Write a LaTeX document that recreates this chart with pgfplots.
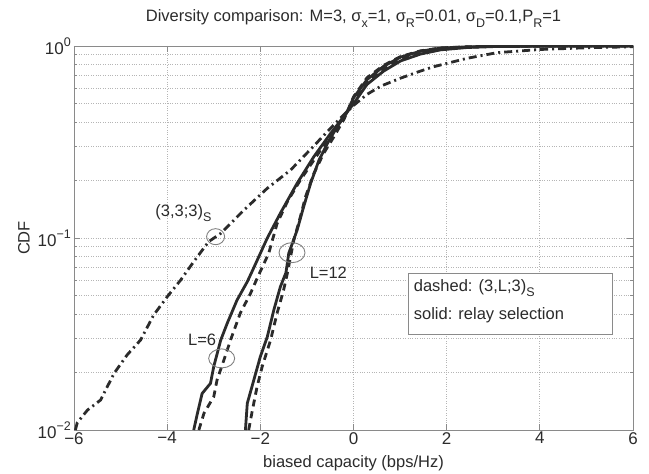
\documentclass[border=0pt]{standalone}
\usepackage{fontspec}
\setmainfont{Liberation Sans}
\usepackage{pgfplots}
\pgfplotsset{compat=1.18}
\definecolor{ink}{HTML}{2B2B2B}
\definecolor{framec}{HTML}{8A8A8A}
\definecolor{gridc}{HTML}{B5B5B5}
\newcommand\sub[1]{\raisebox{-0.6ex}{\fontsize{12.5}{13}\selectfont #1}}
\newcommand\sups[1]{\raisebox{0.85ex}{\fontsize{12.5}{13}\selectfont #1}}

\begin{document}
\begin{tikzpicture}
\useasboundingbox (-74pt,-44pt) rectangle (575pt,430pt);
\begin{axis}[
  at={(0,0)}, anchor=south west,
  scale only axis, width=559pt, height=384pt,
  xmin=-6, xmax=6, ymode=log, ymin=0.01, ymax=1,
  xtick={-6,-4,-2,0,2,4,6}, xticklabels={−6,−4,−2,0,2,4,6},
  ytick={0.01,0.1,1}, yticklabels={10\sups{−2},10\sups{−1},10\sups{0}},
  grid=both,
  major grid style={dotted, gridc, line width=0.9pt},
  minor grid style={dotted, gridc, line width=0.9pt},
  tick align=inside, major tick length=6pt, minor tick length=3.5pt,
  tick style={framec, line width=0.7pt},
  axis line style={framec, line width=0.9pt},
  ticklabel style={font=\fontsize{17}{20}\selectfont, text=ink},
  xticklabel style={inner sep=2pt},
  yticklabel style={inner sep=3pt},
  xlabel={biased capacity (bps/Hz)}, ylabel={CDF},
  xlabel style={at={(axis description cs:0.5,0)}, anchor=base, yshift=-37pt, font=\fontsize{16.5}{19}\selectfont, text=ink},
  ylabel style={at={(axis description cs:-0.0894,0.5)}, anchor=center, font=\fontsize{16.5}{19}\selectfont, text=ink},
  title={Diversity comparison: M=3, σ\sub{x}=1, σ\sub{R}=0.01, σ\sub{D}=0.1,P\sub{R}=1},
  title style={at={(axis description cs:0.5,1)}, anchor=base, yshift=18pt, font=\fontsize{16.5}{19}\selectfont, text=ink},
  every axis plot/.append style={ink, line width=2.8pt},
]
% (3,3;3)_S dash-dot
\addplot[dash pattern=on 8pt off 4pt on 2pt off 4pt] coordinates {
(-5.97,0.0100) (-5.93,0.01091) (-5.71,0.01271) (-5.43,0.01432) (-5.14,0.01972)
(-4.86,0.0246) (-4.57,0.02944) (-4.29,0.0397) (-4.0,0.0494) (-3.71,0.0604)
(-3.43,0.0753) (-3.11,0.0957) (-2.85,0.1057) (-2.35,0.140) (-1.85,0.1816)
(-1.35,0.226) (-0.85,0.302) (-0.42,0.389) (-0.2,0.44) (0.0,0.49) (0.29,0.56)
(0.6,0.62) (1.01,0.68) (1.4,0.735) (1.72,0.780) (2.44,0.863) (3.08,0.923)
(4.0,0.959) (5.0,0.979) (6.0,0.991)
};
% L=6 solid
\addplot[solid] coordinates {
(-3.43,0.0100) (-3.35,0.01222) (-3.25,0.01549) (-3.07,0.0175) (-3.0,0.0214)
(-2.85,0.0294) (-2.71,0.0360) (-2.50,0.0475) (-2.28,0.0592) (-2.15,0.0692)
(-1.85,0.100) (-1.57,0.1346) (-1.21,0.1928) (-0.85,0.2655) (-0.49,0.351)
(-0.25,0.417) (0.0,0.50) (0.29,0.631) (0.65,0.741) (1.01,0.836) (1.44,0.908)
(1.87,0.955) (2.44,0.982) (3.0,0.993) (4.0,0.998) (5.0,0.9995) (6.0,1.0)
};
% L=6 dashed
\addplot[dash pattern=on 7pt off 5pt] coordinates {
(-3.32,0.0100) (-3.21,0.01222) (-3.0,0.0149) (-2.93,0.0182) (-2.78,0.0232)
(-2.64,0.0294) (-2.43,0.0406) (-2.21,0.0515) (-2.05,0.0631) (-1.82,0.0832)
(-1.64,0.119) (-1.42,0.1545) (-1.14,0.2004) (-0.85,0.2547) (-0.56,0.3236)
(-0.3,0.398) (0.0,0.513) (0.29,0.645) (0.65,0.759) (1.01,0.851) (1.44,0.923)
(1.87,0.964) (2.44,0.986) (3.0,0.995) (4.0,0.999) (6.0,1.0)
};
% L=12 solid
\addplot[solid] coordinates {
(-2.32,0.0100) (-2.28,0.01377) (-2.14,0.0182) (-2.0,0.0241) (-1.85,0.0306)
(-1.71,0.0422) (-1.57,0.0557) (-1.45,0.066) (-1.39,0.0832) (-1.21,0.110)
(-1.07,0.1455) (-0.92,0.1928) (-0.74,0.2547) (-0.56,0.311) (-0.35,0.380)
(-0.15,0.447) (0.0,0.537) (0.29,0.668) (0.65,0.785) (1.01,0.875) (1.44,0.940)
(1.87,0.975) (2.44,0.990) (3.0,0.997) (4.0,0.9993) (6.0,1.0)
};
% L=12 dashed
\addplot[dash pattern=on 7pt off 5pt] coordinates {
(-2.25,0.0100) (-2.17,0.0127) (-2.07,0.0168) (-1.96,0.0214) (-1.78,0.0294)
(-1.64,0.0406) (-1.50,0.0536) (-1.42,0.0655) (-1.28,0.0977) (-1.14,0.129)
(-1.03,0.164) (-0.85,0.217) (-0.64,0.276) (-0.42,0.337) (-0.2,0.417)
(0.0,0.543) (0.29,0.684) (0.65,0.794) (1.01,0.881) (1.44,0.944) (1.87,0.977)
(2.44,0.991) (3.0,0.997) (4.0,0.9995) (6.0,1.0)
};
% annotations
\draw[gray, line width=0.9pt] (axis cs:-2.96,0.1016) ellipse [x radius=9pt, y radius=8pt];
\draw[gray, line width=0.9pt] (axis cs:-1.32,0.0839) ellipse [x radius=13pt, y radius=10pt];
\draw[gray, line width=0.9pt] (axis cs:-2.83,0.0236) ellipse [x radius=13pt, y radius=9.5pt];
\node[font=\fontsize{16.5}{19}\selectfont, text=ink] at (axis cs:-3.65,0.135) {(3,3;3)\sub{S}};
\node[font=\fontsize{16.5}{19}\selectfont, text=ink] at (axis cs:-0.54,0.0656) {L=12};
\node[font=\fontsize{16.5}{19}\selectfont, text=ink] at (axis cs:-3.25,0.0295) {L=6};
\draw[framec, fill=white, line width=0.9pt] (axis cs:1.19,0.0651) rectangle (axis cs:5.56,0.0313);
\node[anchor=west, font=\fontsize{16.5}{19}\selectfont, text=ink] at (axis cs:1.22,0.0548) {dashed: (3,L;3)\sub{S}};
\node[anchor=west, font=\fontsize{16.5}{19}\selectfont, text=ink] at (axis cs:1.22,0.0395) {solid: relay selection};
\end{axis}
\end{tikzpicture}
\end{document}
